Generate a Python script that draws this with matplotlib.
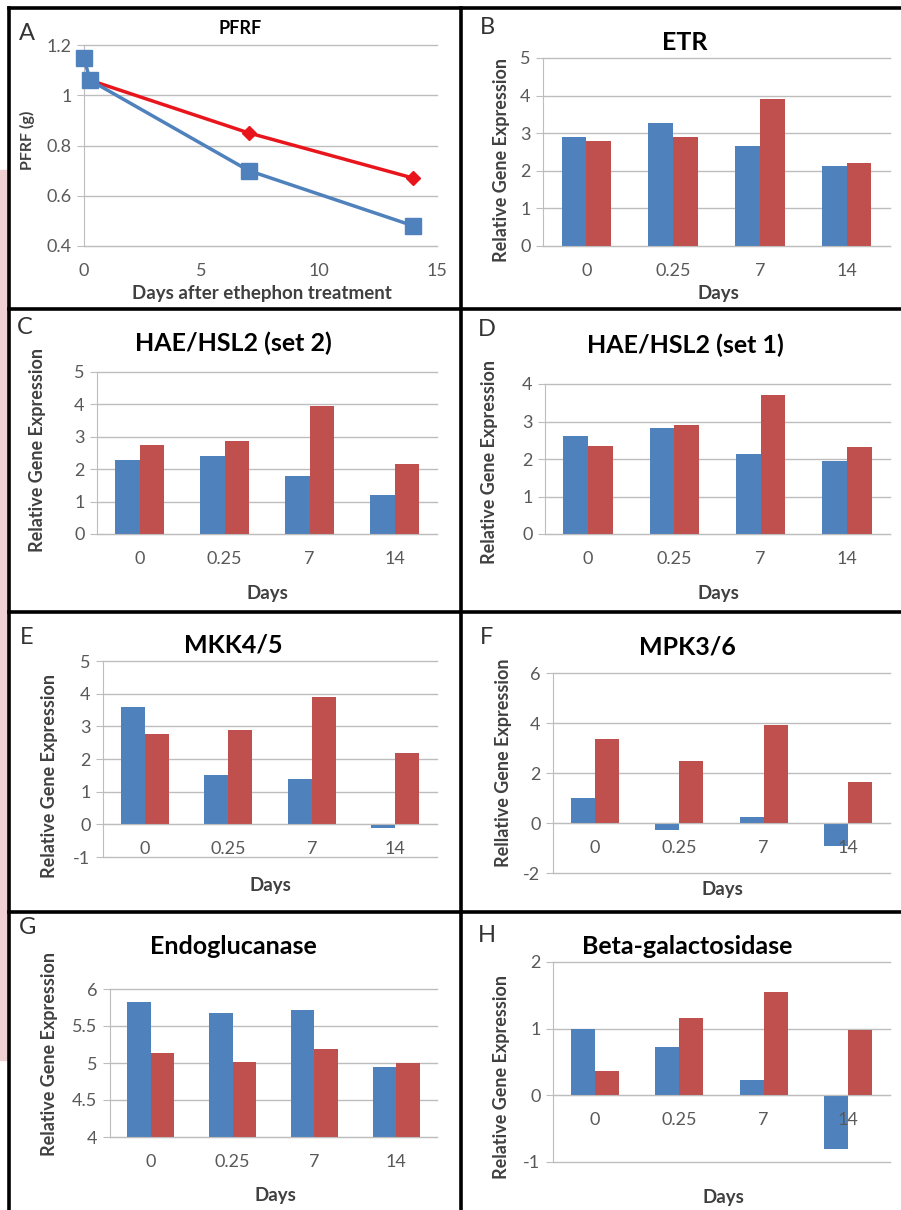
import numpy as np
import matplotlib
matplotlib.use('Agg')
import matplotlib.pyplot as plt
from matplotlib.lines import Line2D
from matplotlib.patches import Rectangle

plt.rcParams['font.family'] = ['Lato', 'DejaVu Sans']

# data
#------------------------------------------------------------------------------
# panel A, fruit removal force vs days
daysBlue = [0, 0.25, 7, 14]
pfrfBlue = [1.15, 1.06, 0.70, 0.48]
daysRed = [0.25, 7, 14]
pfrfRed = [1.06, 0.85, 0.67]

# bar panels, same four sampling days
categories = ['0', '0.25', '7', '14']
etrBlue = [2.89, 3.28, 2.67, 2.14]
etrRed = [2.78, 2.89, 3.92, 2.20]
hae2Blue = [2.29, 2.42, 1.80, 1.19]
hae2Red = [2.76, 2.88, 3.96, 2.17]
hae1Blue = [2.62, 2.84, 2.14, 1.96]
hae1Red = [2.36, 2.91, 3.70, 2.31]
mkkBlue = [3.60, 1.52, 1.38, -0.11]
mkkRed = [2.76, 2.88, 3.91, 2.17]
mpkBlue = [1.02, -0.27, 0.24, -0.93]
mpkRed = [3.35, 2.49, 3.92, 1.63]
endoBlue = [5.83, 5.68, 5.71, 4.94]
endoRed = [5.14, 5.01, 5.19, 5.00]
bgalBlue = [1.00, 0.73, 0.23, -0.80]
bgalRed = [0.36, 1.16, 1.55, 0.98]

# style
#------------------------------------------------------------------------------
W, H = 901, 1210
BLUE = '#4F81BD'
RED = '#C0504D'
LINERED = '#E8161C'
GRID = '#BDBDBD'
TICK = '#595959'
LAB = '#404040'

fig = plt.figure(figsize=(W/100, H/100), dpi=100)

def box(l, t, r, b):
    return [l/W, 1-b/H, (r-l)/W, (b-t)/H]

def ftext(x, y, s, **kw):
    fig.text(x/W, 1-y/H, s, ha='center', va='center', **kw)

def style_axes(ax, base):
    for s in ['top', 'right']:
        ax.spines[s].set_visible(False)
    ax.spines['left'].set_color(GRID)
    ax.spines['bottom'].set_color(GRID)
    ax.spines['bottom'].set_position(('data', base))
    # gridlines drawn behind the marks, tick labels stay on top
    for yt in ax.get_yticks():
        ax.axhline(yt, color=GRID, lw=1, zorder=0, clip_on=False)
    ax.tick_params(axis='y', length=5, color=GRID, labelcolor=TICK, labelsize=13, pad=4)
    ax.tick_params(axis='x', length=0, labelcolor=TICK, labelsize=13, pad=12)

# pink smudge on the left edge
fig.patches.append(Rectangle((0, 1-1060/H), 9/W, 890/H, transform=fig.transFigure,
                             color='#F0D0D3', zorder=0))

# panel A
#------------------------------------------------------------------------------
ax = fig.add_axes(box(84, 45, 437, 246))
ax.plot(daysRed, pfrfRed, color=LINERED, lw=2.5, marker='D', ms=7, clip_on=False, zorder=3)
ax.plot(daysBlue, pfrfBlue, color=BLUE, lw=2.5, marker='s', ms=11, clip_on=False, zorder=4)
ax.set_xlim(0, 15)
ax.set_ylim(0.4, 1.2)
ax.set_xticks([0, 5, 10, 15], ['0', '5', '10', '15'])
ax.set_yticks([0.4, 0.6, 0.8, 1.0, 1.2], ['0.4', '0.6', '0.8', '1', '1.2'])
style_axes(ax, 0.4)
ftext(240, 28, 'PFRF', fontsize=13, fontweight='bold')
ftext(27, 140, 'PFRF (g)', fontsize=11.5, fontweight='bold', color=LAB, rotation=90)
ftext(262, 293, 'Days after ethephon treatment', fontsize=13.5, fontweight='bold', color=LAB)
ftext(27, 33, 'A', fontsize=17, color='#333333')

# bar panels
#------------------------------------------------------------------------------
def bar_panel(rect, blue, red, ylim, yticks, ytl, title, titleXY, letter, letterXY,
              ylabXY, daysXY, base=0, ylab='Relative Gene Expression'):
    ax = fig.add_axes(box(*rect))
    x = np.arange(len(categories))
    w = 0.286
    ax.bar(x - w/2, np.array(blue) - base, w, bottom=base, color=BLUE, zorder=1)
    ax.bar(x + w/2, np.array(red) - base, w, bottom=base, color=RED, zorder=1)
    ax.set_xlim(-0.5, 3.5)
    ax.set_ylim(*ylim)
    ax.set_yticks(yticks, ytl)
    ax.set_xticks(x, categories)
    style_axes(ax, base)
    ftext(*titleXY, title, fontsize=18, fontweight='bold')
    ftext(*letterXY, letter, fontsize=17, color='#333333')
    ftext(*ylabXY, ylab, fontsize=13, fontweight='bold', color=LAB, rotation=90)
    ftext(*daysXY, 'Days', fontsize=13.5, fontweight='bold', color=LAB)
    return ax

bar_panel((543, 58, 890, 246), etrBlue, etrRed, (0, 5), range(6), ['0', '1', '2', '3', '4', '5'],
          'ETR', (685, 43), 'B', (487, 27), (502, 160), (718, 293))
bar_panel((97, 372, 437, 534), hae2Blue, hae2Red, (0, 5), range(6), ['0', '1', '2', '3', '4', '5'],
          'HAE/HSL2 (set 2)', (233, 343), 'C', (25, 328), (38, 450), (267, 593))
bar_panel((545, 384, 890, 534), hae1Blue, hae1Red, (0, 4), range(5), ['0', '1', '2', '3', '4'],
          'HAE/HSL2 (set 1)', (685, 345), 'D', (487, 330), (490, 462), (718, 593))
bar_panel((103, 661, 437, 857), mkkBlue, mkkRed, (-1, 5), range(-1, 6),
          ['-1', '0', '1', '2', '3', '4', '5'],
          'MKK4/5', (233, 645), 'E', (27, 637), (50, 776), (270, 885))
bar_panel((553, 673, 890, 873), mpkBlue, mpkRed, (-2, 6), range(-2, 7, 2),
          ['-2', '0', '2', '4', '6'],
          'MPK3/6', (687, 647), 'F', (487, 638), (503, 763), (722, 890),
          ylab='Rellative Gene Expression')
bar_panel((110, 989, 437, 1137), endoBlue, endoRed, (4, 6), [4, 4.5, 5, 5.5, 6],
          ['4', '4.5', '5', '5.5', '6'],
          'Endoglucanase', (233, 947), 'G', (28, 928), (50, 1054), (275, 1195), base=4)
bar_panel((553, 962, 890, 1162), bgalBlue, bgalRed, (-1, 2), range(-1, 3),
          ['-1', '0', '1', '2'],
          'Beta-galactosidase', (687, 947), 'H', (487, 935), (502, 1077), (723, 1198))

# panel frame lines
#------------------------------------------------------------------------------
def fline(x0, y0, x1, y1):
    fig.add_artist(Line2D([x0/W, x1/W], [1-y0/H, 1-y1/H], color='black', lw=2.6,
                          transform=fig.transFigure))

fline(9, 8, W, 8)
fline(9, 8, 9, H)
fline(461, 8, 461, H)
for yy in [309, 612, 912]:
    fline(9, yy, W, yy)

fig.savefig('out.png', dpi=100)
